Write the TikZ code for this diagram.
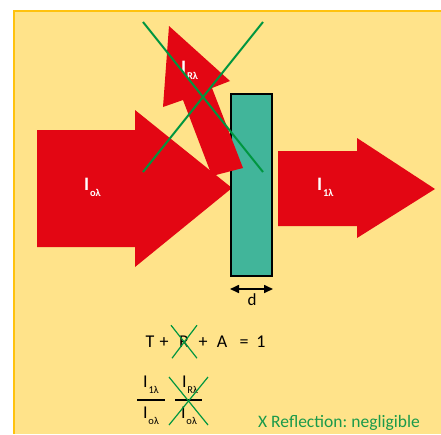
\documentclass[tikz,border=0pt]{standalone}
\usepackage{fontspec}
\setmainfont{Carlito}
\usepackage{tikz}
\usetikzlibrary{arrows.meta, positioning}
\definecolor{bgyellow}{RGB}{255, 227, 138}
\definecolor{bordergold}{RGB}{255, 194, 14}
\definecolor{beamred}{RGB}{227, 6, 19}
\definecolor{slabteal}{RGB}{65, 181, 154}
\definecolor{crossgreen}{RGB}{0, 150, 64}
\definecolor{notegreen}{RGB}{26, 154, 74}
\newcommand{\isub}[1]{I\kern0.8pt\raisebox{-6pt}{\fontsize{10.5}{10.5}\selectfont #1}}

\begin{document}
\begin{tikzpicture}[
    x=1pt, y=-1pt,
    beam/.style={fill=beamred},
    slabbox/.style={draw=black, line width=2pt, fill=slabteal, inner sep=0pt,
                    minimum width=41pt, minimum height=182pt},
    cross/.style={draw=crossgreen, line width=2pt},
    smallcross/.style={draw=crossgreen, line width=1.2pt},
    beamlabel/.style={text=white, font=\fontsize{19}{19}\selectfont\bfseries, inner sep=0pt},
    eqtext/.style={font=\fontsize{18}{18}\selectfont, inner sep=0pt},
    fracbar/.style={line width=1.5pt},
    dimline/.style={{Triangle[length=9pt,width=8pt]}-{Triangle[length=9pt,width=8pt]}, line width=1.6pt}
]
    \useasboundingbox (0,0) rectangle (441,434);
    % background panel
    \fill[bgyellow] (13,10) rectangle (441,434);
    \draw[bordergold, line width=2pt] (14,434) -- (14,10.5) -- (441,10.5);

    % incident beam
    \fill[beam] (37,130) -- (135,130) -- (135,110) -- (232,188)
        -- (135,267) -- (135,247) -- (37,247) -- cycle;

    % sample
    \node[slabbox] (slab) at (251.5,185) {};

    % reflected beam
    \fill[beam] (169,26) -- (230,81) -- (212,88) -- (243,168)
        -- (212,176) -- (183,100) -- (163,107) -- cycle;

    % transmitted beam
    \fill[beam] (278,151) -- (357,151) -- (357,138) -- (435,189)
        -- (357,238) -- (357,226) -- (278,226) -- cycle;

    \node[beamlabel, anchor=base west] (inlbl) at (84,190) {\isub{oλ}};
    \node[beamlabel, anchor=base west] (refllbl) at (181,73) {\isub{Rλ}};
    \node[beamlabel, anchor=base west] (translbl) at (317,190) {\isub{1λ}};

    % reflection crossed out
    \draw[cross] (143,22) -- (263,172);
    \draw[cross] (263,22) -- (143,172);

    % thickness
    \coordinate (dleft) at ([yshift=-12pt]slab.south west);
    \coordinate (dright) at ([yshift=-12pt]slab.south east);
    \draw[dimline] (dleft) -- (dright);
    \node[eqtext, font=\fontsize{17}{17}\selectfont, anchor=base] (dlbl) at (252,305) {d};

    % balance
    \node[eqtext, anchor=base] (eqT) at (150,347) {T};
    \node[eqtext, anchor=base] (eqP1) at (164,347) {+};
    \node[eqtext, anchor=base] (eqR) at (184,347) {R};
    \node[eqtext, anchor=base] (eqP2) at (203,347) {+};
    \node[eqtext, anchor=base] (eqA) at (222,347) {A};
    \node[eqtext, anchor=base] (eqEq) at (244,347) {=};
    \node[eqtext, anchor=base] (eqOne) at (261,347) {1};
    \draw[smallcross] ([xshift=-13pt,yshift=16pt]eqR.center) -- ([xshift=13pt,yshift=-17pt]eqR.center);
    \draw[smallcross] ([xshift=13pt,yshift=16pt]eqR.center) -- ([xshift=-12pt,yshift=-17pt]eqR.center);

    % ratios
    \node[eqtext, anchor=base] (num1) at (151,387) {\isub{1λ}};
    \draw[fracbar] (137,400) -- (165,400);
    \node[eqtext, anchor=base] (den1) at (151,418) {\isub{oλ}};
    \node[eqtext, anchor=base] (num2) at (190,387) {\isub{Rλ}};
    \draw[fracbar] (175,400) -- (202,400);
    \node[eqtext, anchor=base] (den2) at (189,418) {\isub{oλ}};
    \draw[smallcross] (169,377) -- (208,425);
    \draw[smallcross] (208,377) -- (169,425);

    \node[eqtext, font=\fontsize{17.5}{17.5}\selectfont, text=notegreen, anchor=base west] (note) at (258,427)
        {X Reflection:\kern-1pt{} negligible};
\end{tikzpicture}
\end{document}
